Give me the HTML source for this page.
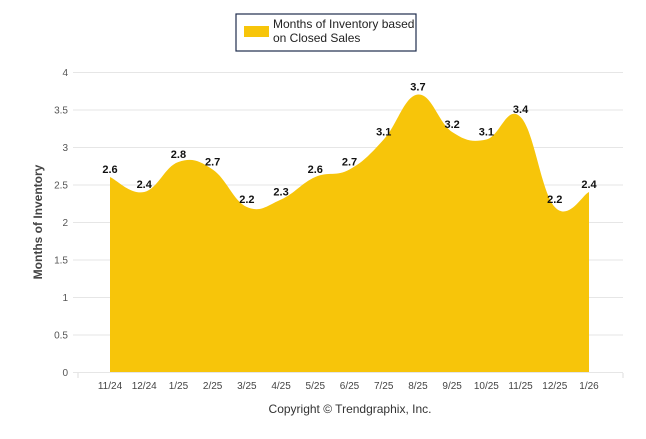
<!DOCTYPE html>
<html><head><meta charset="utf-8"><style>
body{margin:0;background:#fff;width:646px;height:434px;overflow:hidden;font-family:"Liberation Sans",Arial,sans-serif}
</style></head><body>
<svg width="646" height="434" id="c">
<rect x="236" y="14" width="180" height="37" fill="#fff" stroke="#1f2d4e" stroke-width="1.2"/>
<rect x="244" y="26" width="25" height="11" fill="#f7c50a"/>
<text x="273" y="28" font-size="12" fill="#222">Months of Inventory based</text>
<text x="273" y="42" font-size="12" fill="#222">on Closed Sales</text>
<g id="grid"></g><g id="area"></g><g id="labels"></g>
<text transform="translate(42,222) rotate(-90)" text-anchor="middle" font-size="12" font-weight="bold" fill="#444">Months of Inventory</text>
<text x="350" y="413" text-anchor="middle" font-size="12" fill="#333">Copyright © Trendgraphix, Inc.</text>
</svg>
<script>
const categories=["11/24","12/24","1/25","2/25","3/25","4/25","5/25","6/25","7/25","8/25","9/25","10/25","11/25","12/25","1/26"];
const values=[2.6,2.4,2.8,2.7,2.2,2.3,2.6,2.7,3.1,3.7,3.2,3.1,3.4,2.2,2.4];
const yTicks=[0,0.5,1,1.5,2,2.5,3,3.5,4];
const NS="http://www.w3.org/2000/svg";
const X=i=>110+i*(589-110)/(categories.length-1);
const Y=v=>372-v*75;
function mk(t,a,p){const e=document.createElementNS(NS,t);for(const k in a)e.setAttribute(k,a[k]);p.appendChild(e);return e;}
const g=document.getElementById('grid'),ar=document.getElementById('area'),lb=document.getElementById('labels');
yTicks.forEach(v=>{
 const l=mk('line',{x1:73,x2:623,y1:Y(v)+0.5,y2:Y(v)+0.5,stroke:'#e6e6e6'},g);
 
 
 const t=mk('text',{x:68,y:Y(v)+4,'text-anchor':'end','font-size':10,fill:'#555'},g);t.textContent=v;
 
 
});
mk('line',{x1:78,x2:78,y1:373,y2:378,stroke:'#ddd'},g);
mk('line',{x1:623,x2:623,y1:373,y2:378,stroke:'#ddd'},g);
categories.forEach((c,i)=>{
 const t=mk('text',{x:X(i),y:389,'text-anchor':'middle','font-size':10,fill:'#444'},g);t.textContent=c;
 
 
});
const pts=values.map((v,i)=>[X(i),Y(v)]);
let d=`M${pts[0][0]},${Y(0)}L${pts[0][0]},${pts[0][1]}`;
for(let i=0;i<pts.length-1;i++){
 const p0=pts[Math.max(0,i-1)],p1=pts[i],p2=pts[i+1],p3=pts[Math.min(pts.length-1,i+2)];
 const s=0.2;
 const c1=[p1[0]+(p2[0]-p0[0])*s,p1[1]+(p2[1]-p0[1])*s];
 const c2=[p2[0]-(p3[0]-p1[0])*s,p2[1]-(p3[1]-p1[1])*s];
 d+=`C${c1[0]},${c1[1]} ${c2[0]},${c2[1]} ${p2[0]},${p2[1]}`;
}
d+=`L${pts[pts.length-1][0]},${Y(0)}Z`;
const a=mk('path',{d:d,fill:'#f7c50a'},ar);


values.forEach((v,i)=>{
 const t=mk('text',{x:X(i),y:Y(v)-4,'text-anchor':'middle','font-size':11,'font-weight':'bold',fill:'#111'},lb);t.textContent=v;
 
 
});
</script>
</body></html>
